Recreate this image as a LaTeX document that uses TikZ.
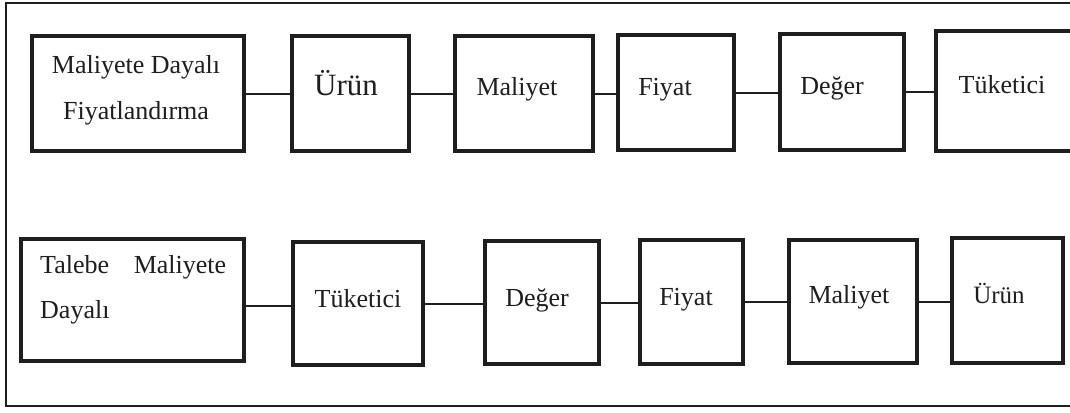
\documentclass[tikz,border=0pt]{standalone}
\usepackage{fontspec}
\setmainfont{Liberation Serif}
\definecolor{ink}{HTML}{1E1E1E}
\begin{document}
\begin{tikzpicture}[x=1pt,y=-1pt,
  box/.style={draw=ink, line width=3.6pt, inner sep=0pt, fill=white},
  link/.style={draw=ink, line width=2pt},
  lbl/.style={text=ink, inner sep=0pt, anchor=base, font=\fontsize{26}{46}\selectfont},
  frame/.style={draw=ink, line width=1.4pt}]
\useasboundingbox (0,0) rectangle (1070,412);
\fill[white] (0,0) rectangle (1070,412);
\draw[frame] (6,3) rectangle (1090,406);

% upper chain: cost-based pricing
\node[box, minimum width=212, minimum height=115] (t1) at (138,93.5) {};
\node[box, minimum width=117, minimum height=115] (t2) at (350.5,93.5) {};
\node[box, minimum width=138, minimum height=115] (t3) at (524,93.5) {};
\node[box, minimum width=116, minimum height=115] (t4) at (676,92.5) {};
\node[box, minimum width=124, minimum height=116] (t5) at (842,92) {};
\node[box, minimum width=147, minimum height=120] (t6) at (1009.5,91) {};

% two-line labels: the base anchor sits on the last line
\node[lbl, align=center] (t1l) at (136,119) {Maliyete Dayalı\\Fiyatlandırma};
\node[lbl, font=\fontsize{31}{36}\selectfont] (t2l) at (346,95) {Ürün};
\node[lbl] (t3l) at (517,95) {Maliyet};
\node[lbl] (t4l) at (665,95) {Fiyat};
\node[lbl] (t5l) at (832,94) {Değer};
\node[lbl] (t6l) at (1002,93) {Tüketici};

\draw[link] (t1.east) -- (t1.east -| t2.west);
\draw[link] (t2.east) -- (t2.east -| t3.west);
\draw[link] (t3.east) -- (t3.east -| t4.west);
\draw[link] (t4.east) -- (t4.east -| t5.west);
\draw[link] (t5.east) -- (t5.east -| t6.west);

% lower chain: demand-based pricing
\node[box, minimum width=223, minimum height=122] (b1) at (132.5,300) {};
\node[box, minimum width=130, minimum height=123] (b2) at (358,303.5) {};
\node[box, minimum width=114, minimum height=123] (b3) at (542,302.5) {};
\node[box, minimum width=103, minimum height=124] (b4) at (691.5,302) {};
\node[box, minimum width=128, minimum height=123] (b5) at (853,301.5) {};
\node[box, minimum width=111, minimum height=125] (b6) at (1007.5,300.5) {};

\node[lbl, anchor=base west, align=left, font=\fontsize{26}{45}\selectfont] (b1l) at (40,318) {\makebox[186pt][s]{Talebe\hfill Maliyete}\\Dayalı};
\node[lbl] (b2l) at (358,307) {Tüketici};
\node[lbl] (b3l) at (537,306) {Değer};
\node[lbl] (b4l) at (686,305) {Fiyat};
\node[lbl] (b5l) at (849,303) {Maliyet};
\node[lbl, font=\fontsize{25}{30}\selectfont] (b6l) at (999,303) {Ürün};

\draw[link] ([yshift=-6pt]b1.east) -- ([yshift=-6pt]b1.east -| b2.west);
\draw[link] (b2.east) -- (b2.east -| b3.west);
\draw[link] (b3.east) -- (b3.east -| b4.west);
\draw[link] (b4.east) -- (b4.east -| b5.west);
\draw[link] (b5.east) -- (b5.east -| b6.west);
\end{tikzpicture}
\end{document}
